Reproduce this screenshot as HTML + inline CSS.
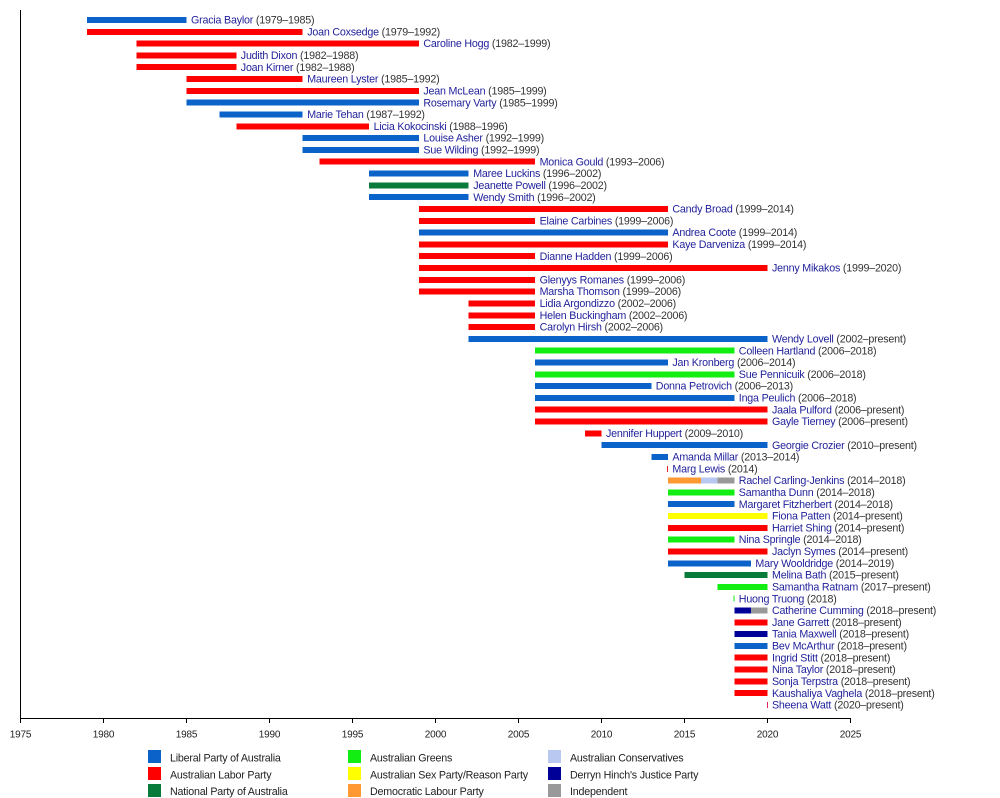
<!DOCTYPE html>
<html>
<head>
<meta charset="utf-8">
<style>
html,body{margin:0;padding:0;background:#fff;}
svg{display:block;}
text{font-family:"Liberation Sans",Arial,sans-serif;}
.l{font-size:10.7px;letter-spacing:-0.2px;fill:#333;}
.n{fill:#1f1f9a;}
.t{font-size:10px;letter-spacing:-0.2px;fill:#222;}
.g{font-size:10.7px;letter-spacing:-0.2px;fill:#222;}
</style>
</head>
<body>
<svg width="1000" height="798" viewBox="0 0 1000 798" xmlns="http://www.w3.org/2000/svg">
<rect x="0" y="0" width="1000" height="798" fill="#fff"/>
<g shape-rendering="crispEdges">
<g transform="translate(0,20)"><rect x="86.9" y="-3" width="99.6" height="6" fill="#0b63c9"/><text class="l" x="191" y="3.6"><tspan class="n">Gracia Baylor</tspan> (1979–1985)</text></g>
<g transform="translate(0,31.81)"><rect x="86.9" y="-3" width="215.8" height="6" fill="#f00"/><text class="l" x="307.2" y="3.6"><tspan class="n">Joan Coxsedge</tspan> (1979–1992)</text></g>
<g transform="translate(0,43.62)"><rect x="136.7" y="-3" width="282.2" height="6" fill="#f00"/><text class="l" x="423.4" y="3.6"><tspan class="n">Caroline Hogg</tspan> (1982–1999)</text></g>
<g transform="translate(0,55.43)"><rect x="136.7" y="-3" width="99.6" height="6" fill="#f00"/><text class="l" x="240.8" y="3.6"><tspan class="n">Judith Dixon</tspan> (1982–1988)</text></g>
<g transform="translate(0,67.24)"><rect x="136.7" y="-3" width="99.6" height="6" fill="#f00"/><text class="l" x="240.8" y="3.6"><tspan class="n">Joan Kirner</tspan> (1982–1988)</text></g>
<g transform="translate(0,79.05)"><rect x="186.5" y="-3" width="116.2" height="6" fill="#f00"/><text class="l" x="307.2" y="3.6"><tspan class="n">Maureen Lyster</tspan> (1985–1992)</text></g>
<g transform="translate(0,90.86)"><rect x="186.5" y="-3" width="232.4" height="6" fill="#f00"/><text class="l" x="423.4" y="3.6"><tspan class="n">Jean McLean</tspan> (1985–1999)</text></g>
<g transform="translate(0,102.67)"><rect x="186.5" y="-3" width="232.4" height="6" fill="#0b63c9"/><text class="l" x="423.4" y="3.6"><tspan class="n">Rosemary Varty</tspan> (1985–1999)</text></g>
<g transform="translate(0,114.48)"><rect x="219.7" y="-3" width="83" height="6" fill="#0b63c9"/><text class="l" x="307.2" y="3.6"><tspan class="n">Marie Tehan</tspan> (1987–1992)</text></g>
<g transform="translate(0,126.29)"><rect x="236.3" y="-3" width="132.8" height="6" fill="#f00"/><text class="l" x="373.6" y="3.6"><tspan class="n">Licia Kokocinski</tspan> (1988–1996)</text></g>
<g transform="translate(0,138.10)"><rect x="302.7" y="-3" width="116.2" height="6" fill="#0b63c9"/><text class="l" x="423.4" y="3.6"><tspan class="n">Louise Asher</tspan> (1992–1999)</text></g>
<g transform="translate(0,149.91)"><rect x="302.7" y="-3" width="116.2" height="6" fill="#0b63c9"/><text class="l" x="423.4" y="3.6"><tspan class="n">Sue Wilding</tspan> (1992–1999)</text></g>
<g transform="translate(0,161.72)"><rect x="319.3" y="-3" width="215.8" height="6" fill="#f00"/><text class="l" x="539.6" y="3.6"><tspan class="n">Monica Gould</tspan> (1993–2006)</text></g>
<g transform="translate(0,173.53)"><rect x="369.1" y="-3" width="99.6" height="6" fill="#0b63c9"/><text class="l" x="473.2" y="3.6"><tspan class="n">Maree Luckins</tspan> (1996–2002)</text></g>
<g transform="translate(0,185.34)"><rect x="369.1" y="-3" width="99.6" height="6" fill="#087a3a"/><text class="l" x="473.2" y="3.6"><tspan class="n">Jeanette Powell</tspan> (1996–2002)</text></g>
<g transform="translate(0,197.15)"><rect x="369.1" y="-3" width="99.6" height="6" fill="#0b63c9"/><text class="l" x="473.2" y="3.6"><tspan class="n">Wendy Smith</tspan> (1996–2002)</text></g>
<g transform="translate(0,208.96)"><rect x="418.9" y="-3" width="249" height="6" fill="#f00"/><text class="l" x="672.4" y="3.6"><tspan class="n">Candy Broad</tspan> (1999–2014)</text></g>
<g transform="translate(0,220.77)"><rect x="418.9" y="-3" width="116.2" height="6" fill="#f00"/><text class="l" x="539.6" y="3.6"><tspan class="n">Elaine Carbines</tspan> (1999–2006)</text></g>
<g transform="translate(0,232.58)"><rect x="418.9" y="-3" width="249" height="6" fill="#0b63c9"/><text class="l" x="672.4" y="3.6"><tspan class="n">Andrea Coote</tspan> (1999–2014)</text></g>
<g transform="translate(0,244.39)"><rect x="418.9" y="-3" width="249" height="6" fill="#f00"/><text class="l" x="672.4" y="3.6"><tspan class="n">Kaye Darveniza</tspan> (1999–2014)</text></g>
<g transform="translate(0,256.20)"><rect x="418.9" y="-3" width="116.2" height="6" fill="#f00"/><text class="l" x="539.6" y="3.6"><tspan class="n">Dianne Hadden</tspan> (1999–2006)</text></g>
<g transform="translate(0,268.01)"><rect x="418.9" y="-3" width="348.6" height="6" fill="#f00"/><text class="l" x="772" y="3.6"><tspan class="n">Jenny Mikakos</tspan> (1999–2020)</text></g>
<g transform="translate(0,279.82)"><rect x="418.9" y="-3" width="116.2" height="6" fill="#f00"/><text class="l" x="539.6" y="3.6"><tspan class="n">Glenyys Romanes</tspan> (1999–2006)</text></g>
<g transform="translate(0,291.63)"><rect x="418.9" y="-3" width="116.2" height="6" fill="#f00"/><text class="l" x="539.6" y="3.6"><tspan class="n">Marsha Thomson</tspan> (1999–2006)</text></g>
<g transform="translate(0,303.44)"><rect x="468.7" y="-3" width="66.4" height="6" fill="#f00"/><text class="l" x="539.6" y="3.6"><tspan class="n">Lidia Argondizzo</tspan> (2002–2006)</text></g>
<g transform="translate(0,315.25)"><rect x="468.7" y="-3" width="66.4" height="6" fill="#f00"/><text class="l" x="539.6" y="3.6"><tspan class="n">Helen Buckingham</tspan> (2002–2006)</text></g>
<g transform="translate(0,327.06)"><rect x="468.7" y="-3" width="66.4" height="6" fill="#f00"/><text class="l" x="539.6" y="3.6"><tspan class="n">Carolyn Hirsh</tspan> (2002–2006)</text></g>
<g transform="translate(0,338.87)"><rect x="468.7" y="-3" width="298.8" height="6" fill="#0b63c9"/><text class="l" x="772" y="3.6"><tspan class="n">Wendy Lovell</tspan> (2002–present)</text></g>
<g transform="translate(0,350.68)"><rect x="535.1" y="-3" width="199.2" height="6" fill="#12ee12"/><text class="l" x="738.8" y="3.6"><tspan class="n">Colleen Hartland</tspan> (2006–2018)</text></g>
<g transform="translate(0,362.49)"><rect x="535.1" y="-3" width="132.8" height="6" fill="#0b63c9"/><text class="l" x="672.4" y="3.6"><tspan class="n">Jan Kronberg</tspan> (2006–2014)</text></g>
<g transform="translate(0,374.30)"><rect x="535.1" y="-3" width="199.2" height="6" fill="#12ee12"/><text class="l" x="738.8" y="3.6"><tspan class="n">Sue Pennicuik</tspan> (2006–2018)</text></g>
<g transform="translate(0,386.11)"><rect x="535.1" y="-3" width="116.2" height="6" fill="#0b63c9"/><text class="l" x="655.8" y="3.6"><tspan class="n">Donna Petrovich</tspan> (2006–2013)</text></g>
<g transform="translate(0,397.92)"><rect x="535.1" y="-3" width="199.2" height="6" fill="#0b63c9"/><text class="l" x="738.8" y="3.6"><tspan class="n">Inga Peulich</tspan> (2006–2018)</text></g>
<g transform="translate(0,409.73)"><rect x="535.1" y="-3" width="232.4" height="6" fill="#f00"/><text class="l" x="772" y="3.6"><tspan class="n">Jaala Pulford</tspan> (2006–present)</text></g>
<g transform="translate(0,421.54)"><rect x="535.1" y="-3" width="232.4" height="6" fill="#f00"/><text class="l" x="772" y="3.6"><tspan class="n">Gayle Tierney</tspan> (2006–present)</text></g>
<g transform="translate(0,433.35)"><rect x="584.9" y="-3" width="16.6" height="6" fill="#f00"/><text class="l" x="606" y="3.6"><tspan class="n">Jennifer Huppert</tspan> (2009–2010)</text></g>
<g transform="translate(0,445.16)"><rect x="601.5" y="-3" width="166" height="6" fill="#0b63c9"/><text class="l" x="772" y="3.6"><tspan class="n">Georgie Crozier</tspan> (2010–present)</text></g>
<g transform="translate(0,456.97)"><rect x="651.3" y="-3" width="16.6" height="6" fill="#0b63c9"/><text class="l" x="672.4" y="3.6"><tspan class="n">Amanda Millar</tspan> (2013–2014)</text></g>
<g transform="translate(0,468.78)"><rect x="667.2" y="-3" width="1" height="6" fill="#e0202a"/><text class="l" x="672.4" y="3.6"><tspan class="n">Marg Lewis</tspan> (2014)</text></g>
<g transform="translate(0,480.59)"><rect x="667.9" y="-3" width="33.2" height="6" fill="#ff9933"/><rect x="701.1" y="-3" width="16.6" height="6" fill="#b8c8f0"/><rect x="717.7" y="-3" width="16.6" height="6" fill="#999"/><text class="l" x="738.8" y="3.6"><tspan class="n">Rachel Carling-Jenkins</tspan> (2014–2018)</text></g>
<g transform="translate(0,492.40)"><rect x="667.9" y="-3" width="66.4" height="6" fill="#12ee12"/><text class="l" x="738.8" y="3.6"><tspan class="n">Samantha Dunn</tspan> (2014–2018)</text></g>
<g transform="translate(0,504.21)"><rect x="667.9" y="-3" width="66.4" height="6" fill="#0b63c9"/><text class="l" x="738.8" y="3.6"><tspan class="n">Margaret Fitzherbert</tspan> (2014–2018)</text></g>
<g transform="translate(0,516.02)"><rect x="667.9" y="-3" width="99.6" height="6" fill="#ffff00"/><text class="l" x="772" y="3.6"><tspan class="n">Fiona Patten</tspan> (2014–present)</text></g>
<g transform="translate(0,527.83)"><rect x="667.9" y="-3" width="99.6" height="6" fill="#f00"/><text class="l" x="772" y="3.6"><tspan class="n">Harriet Shing</tspan> (2014–present)</text></g>
<g transform="translate(0,539.64)"><rect x="667.9" y="-3" width="66.4" height="6" fill="#12ee12"/><text class="l" x="738.8" y="3.6"><tspan class="n">Nina Springle</tspan> (2014–2018)</text></g>
<g transform="translate(0,551.45)"><rect x="667.9" y="-3" width="99.6" height="6" fill="#f00"/><text class="l" x="772" y="3.6"><tspan class="n">Jaclyn Symes</tspan> (2014–present)</text></g>
<g transform="translate(0,563.26)"><rect x="667.9" y="-3" width="83" height="6" fill="#0b63c9"/><text class="l" x="755.4" y="3.6"><tspan class="n">Mary Wooldridge</tspan> (2014–2019)</text></g>
<g transform="translate(0,575.07)"><rect x="684.5" y="-3" width="83" height="6" fill="#087a3a"/><text class="l" x="772" y="3.6"><tspan class="n">Melina Bath</tspan> (2015–present)</text></g>
<g transform="translate(0,586.88)"><rect x="717.7" y="-3" width="49.8" height="6" fill="#12ee12"/><text class="l" x="772" y="3.6"><tspan class="n">Samantha Ratnam</tspan> (2017–present)</text></g>
<g transform="translate(0,598.69)"><rect x="733.3" y="-3" width="1" height="6" fill="#12ee12"/><text class="l" x="738.8" y="3.6"><tspan class="n">Huong Truong</tspan> (2018)</text></g>
<g transform="translate(0,610.50)"><rect x="734.3" y="-3" width="16.6" height="6" fill="#000099"/><rect x="750.9" y="-3" width="16.6" height="6" fill="#999"/><text class="l" x="772" y="3.6"><tspan class="n">Catherine Cumming</tspan> (2018–present)</text></g>
<g transform="translate(0,622.31)"><rect x="734.3" y="-3" width="33.2" height="6" fill="#f00"/><text class="l" x="772" y="3.6"><tspan class="n">Jane Garrett</tspan> (2018–present)</text></g>
<g transform="translate(0,634.12)"><rect x="734.3" y="-3" width="33.2" height="6" fill="#000099"/><text class="l" x="772" y="3.6"><tspan class="n">Tania Maxwell</tspan> (2018–present)</text></g>
<g transform="translate(0,645.93)"><rect x="734.3" y="-3" width="33.2" height="6" fill="#0b63c9"/><text class="l" x="772" y="3.6"><tspan class="n">Bev McArthur</tspan> (2018–present)</text></g>
<g transform="translate(0,657.74)"><rect x="734.3" y="-3" width="33.2" height="6" fill="#f00"/><text class="l" x="772" y="3.6"><tspan class="n">Ingrid Stitt</tspan> (2018–present)</text></g>
<g transform="translate(0,669.55)"><rect x="734.3" y="-3" width="33.2" height="6" fill="#f00"/><text class="l" x="772" y="3.6"><tspan class="n">Nina Taylor</tspan> (2018–present)</text></g>
<g transform="translate(0,681.36)"><rect x="734.3" y="-3" width="33.2" height="6" fill="#f00"/><text class="l" x="772" y="3.6"><tspan class="n">Sonja Terpstra</tspan> (2018–present)</text></g>
<g transform="translate(0,693.17)"><rect x="734.3" y="-3" width="33.2" height="6" fill="#f00"/><text class="l" x="772" y="3.6"><tspan class="n">Kaushaliya Vaghela</tspan> (2018–present)</text></g>
<g transform="translate(0,704.98)"><rect x="767" y="-3" width="1" height="6" fill="#e0206a"/><text class="l" x="772" y="3.6"><tspan class="n">Sheena Watt</tspan> (2020–present)</text></g>
</g>
<!-- axes -->
<g stroke="#000" stroke-width="1" shape-rendering="crispEdges">
<line x1="20.5" y1="10" x2="20.5" y2="718.5"/>
<line x1="20" y1="718.5" x2="851" y2="718.5"/>
<line x1="20.5" y1="718" x2="20.5" y2="723"/>
<line x1="103.5" y1="718" x2="103.5" y2="723"/>
<line x1="186.5" y1="718" x2="186.5" y2="723"/>
<line x1="269.5" y1="718" x2="269.5" y2="723"/>
<line x1="352.5" y1="718" x2="352.5" y2="723"/>
<line x1="435.5" y1="718" x2="435.5" y2="723"/>
<line x1="518.5" y1="718" x2="518.5" y2="723"/>
<line x1="601.5" y1="718" x2="601.5" y2="723"/>
<line x1="684.5" y1="718" x2="684.5" y2="723"/>
<line x1="767.5" y1="718" x2="767.5" y2="723"/>
<line x1="850.5" y1="718" x2="850.5" y2="723"/>
</g>
<g class="t" text-anchor="middle">
<text class="t" x="20.5" y="737.3">1975</text>
<text class="t" x="103.5" y="737.3">1980</text>
<text class="t" x="186.5" y="737.3">1985</text>
<text class="t" x="269.5" y="737.3">1990</text>
<text class="t" x="352.5" y="737.3">1995</text>
<text class="t" x="435.5" y="737.3">2000</text>
<text class="t" x="518.5" y="737.3">2005</text>
<text class="t" x="601.5" y="737.3">2010</text>
<text class="t" x="684.5" y="737.3">2015</text>
<text class="t" x="767.5" y="737.3">2020</text>
<text class="t" x="850.5" y="737.3">2025</text>
</g>
<!-- legend -->
<g shape-rendering="crispEdges">
<rect x="148" y="750" width="13" height="13" fill="#0b63c9"/>
<rect x="148" y="767" width="13" height="13" fill="#f00"/>
<rect x="148" y="784" width="13" height="13" fill="#087a3a"/>
<rect x="348" y="750" width="13" height="13" fill="#12ee12"/>
<rect x="348" y="767" width="13" height="13" fill="#ffff00"/>
<rect x="348" y="784" width="13" height="13" fill="#ff9933"/>
<rect x="548" y="750" width="13" height="13" fill="#b8c8f0"/>
<rect x="548" y="767" width="13" height="13" fill="#000099"/>
<rect x="548" y="784" width="13" height="13" fill="#999"/>
</g>
<text class="g" x="170" y="761.5">Liberal Party of Australia</text>
<text class="g" x="170" y="778.5">Australian Labor Party</text>
<text class="g" x="170" y="795.2">National Party of Australia</text>
<text class="g" x="370" y="761.5">Australian Greens</text>
<text class="g" x="370" y="778.5">Australian Sex Party/Reason Party</text>
<text class="g" x="370" y="795.2">Democratic Labour Party</text>
<text class="g" x="570" y="761.5">Australian Conservatives</text>
<text class="g" x="570" y="778.5">Derryn Hinch's Justice Party</text>
<text class="g" x="570" y="795.2">Independent</text>
</svg>
</body>
</html>
